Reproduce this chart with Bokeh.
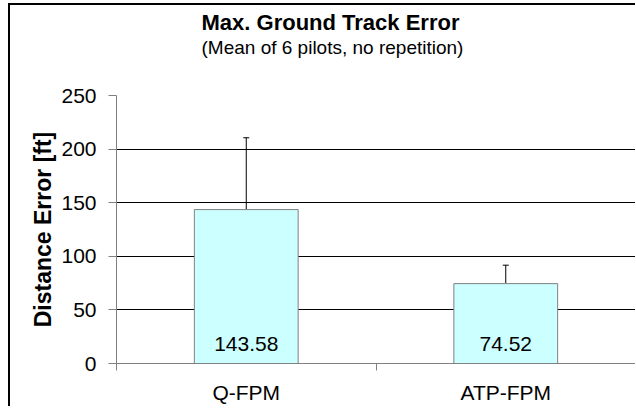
from bokeh.plotting import figure
from bokeh.models import (ColumnDataSource, FixedTicker, Whisker, TeeHead, Title, Range1d)
from bokeh.core.properties import value
from bokeh.embed import file_html
from bokeh.resources import INLINE

categories = ["Q-FPM", "ATP-FPM"]
means = [143.58, 74.52]
errors = [67.0, 17.2]
y_ticks = [0, 50, 100, 150, 200, 250]
title_text = "Max. Ground Track Error"
subtitle_text = "(Mean of 6 pilots, no repetition)"
y_label = "Distance Error [ft]"

FONT = "Liberation Sans"

xs = [i + 0.5 for i in range(len(categories))]
src = ColumnDataSource(dict(
    x=xs, top=means,
    upper=[m + e for m, e in zip(means, errors)],
    lower=[m - e for m, e in zip(means, errors)],
    label=[f"{m:.2f}" for m in means],
    zero=[0] * len(means),
))

p = figure(frame_width=519, frame_height=268, title_location=None,
           output_backend="svg", toolbar_location=None,
           x_range=Range1d(0, len(categories)), y_range=Range1d(0, 250),
           min_border_left=106, min_border_right=0, min_border_top=90,
           min_border_bottom=0,
           styles={"margin-left": "8px", "margin-top": "3px",
                   "border-top": "2px solid black", "border-left": "2px solid black"})
p.outline_line_color = None
p.background_fill_color = "white"
p.border_fill_color = "white"

# gridlines
p.xgrid.grid_line_color = None
p.ygrid.grid_line_color = "#000000"
p.ygrid.grid_line_width = 1
p.ygrid.ticker = FixedTicker(ticks=y_ticks)

# y axis
p.yaxis.ticker = FixedTicker(ticks=y_ticks)
p.yaxis.axis_line_color = "#808080"
p.yaxis.major_tick_line_color = "#808080"
p.yaxis.major_tick_out = 8
p.yaxis.major_tick_in = 0
p.yaxis.minor_tick_line_color = None
p.yaxis.major_label_text_font = FONT
p.yaxis.major_label_text_font_size = "21px"
p.yaxis.major_label_text_color = "black"
p.yaxis.major_label_standoff = 12
p.yaxis.axis_label = y_label
p.yaxis.axis_label_text_font = FONT
p.yaxis.axis_label_text_font_style = "bold"
p.yaxis.axis_label_text_font_size = "23px"
p.yaxis.axis_label_text_color = "black"
p.yaxis.axis_label_standoff = 2

# x axis: labels at category centres, ticks at category boundaries
p.xaxis.ticker = FixedTicker(ticks=xs, minor_ticks=list(range(len(categories) + 1)))
p.xaxis.major_label_overrides = {x: c for x, c in zip(xs, categories)}
p.xaxis.axis_line_color = "#808080"
p.xaxis.major_tick_line_color = None
p.xaxis.major_tick_out = 0
p.xaxis.major_tick_in = 0
p.xaxis.minor_tick_line_color = "#808080"
p.xaxis.minor_tick_out = 7
p.xaxis.minor_tick_in = 0
p.xaxis.major_label_text_font = FONT
p.xaxis.major_label_text_font_size = "21px"
p.xaxis.major_label_text_color = "black"
p.xaxis.major_label_standoff = 10

# bars
p.vbar(x="x", top="top", width=0.4, source=src, fill_color="#CCFFFF",
       line_color="#808080", line_width=1)

# error bars
p.add_layout(Whisker(source=src, base="x", upper="upper", lower="lower",
                     line_color="black", line_width=1,
                     upper_head=TeeHead(size=6, line_color="black", line_width=1),
                     lower_head=TeeHead(size=6, line_color="black", line_width=1)))

# value labels inside bars
p.text(x="x", y="zero", text="label", source=src, text_align="center",
       text_baseline="middle", y_offset=-20, text_font=value(FONT),
       text_font_size="21px", text_color="black")

# titles: first added sits nearest the plot frame (first one is an empty spacer)
p.add_layout(Title(text=" ", standoff=35, text_font_size="1px"), "above")
p.add_layout(Title(text=subtitle_text, align="left", offset=85, standoff=0,
                   text_font=FONT, text_font_style="normal", text_font_size="19px",
                   text_color="black"), "above")
p.add_layout(Title(text=title_text, align="left", offset=85, standoff=0,
                   text_font=FONT, text_font_style="bold", text_font_size="22px",
                   text_color="black"), "above")

open("out.html", "w").write(file_html(p, INLINE))
